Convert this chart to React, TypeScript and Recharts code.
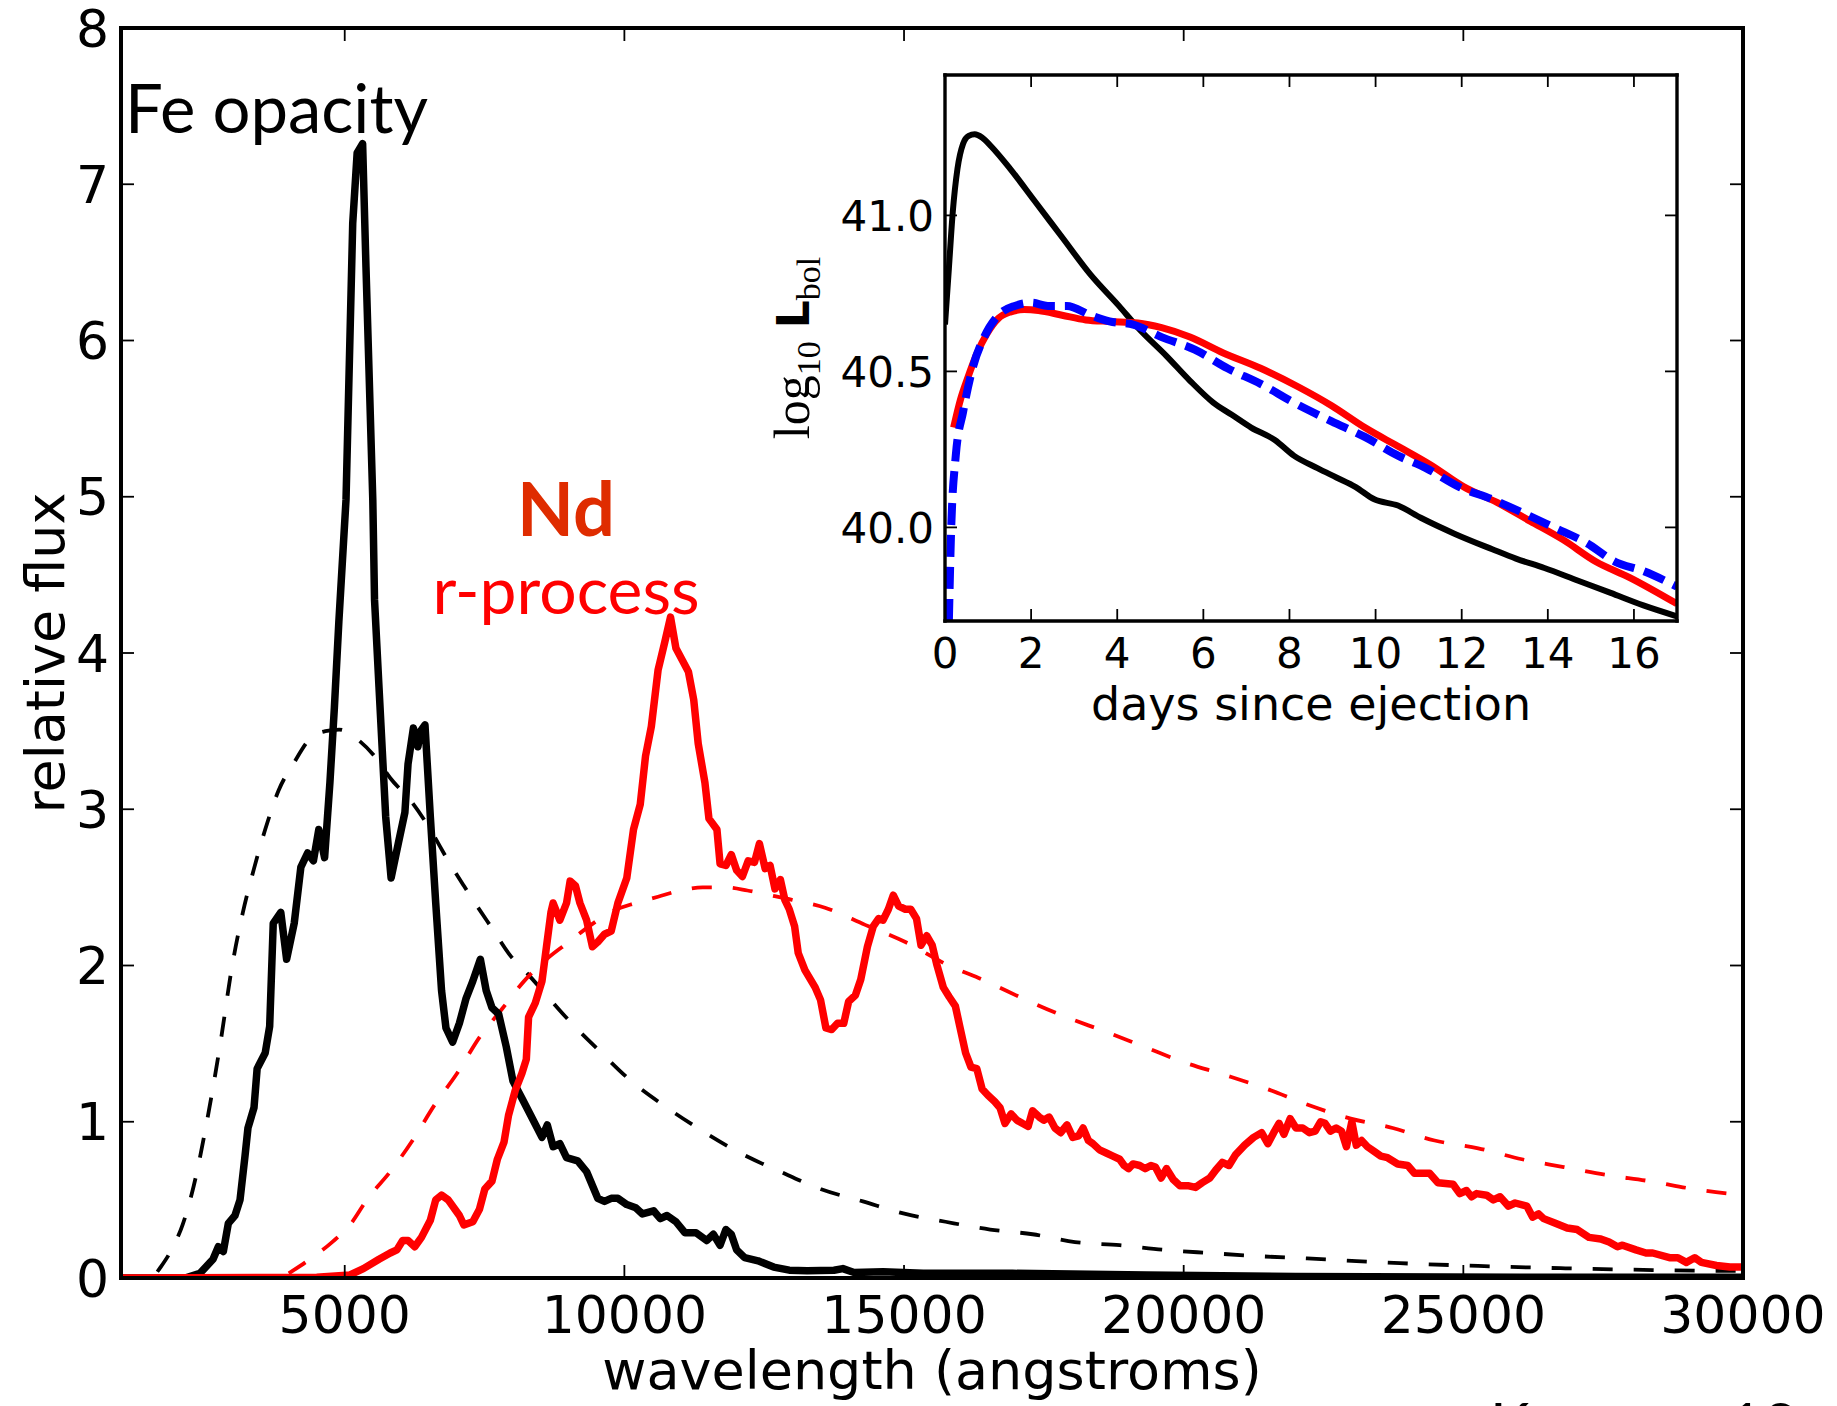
import React from "react";
import { Line, LineChart, XAxis, YAxis } from "recharts";

// main panel: spectra (wavelength in angstroms, relative flux)
const feSpectrum: [number, number][] = [
  [1000, 0], [2000, 0], [2144, 0.0], [2412, 0.03], [2645, 0.12], [2740, 0.2], [2830, 0.17], [2919, 0.35],
  [3038, 0.4], [3128, 0.5], [3217, 0.78], [3270, 0.96], [3378, 1.09], [3434, 1.34], [3578, 1.44], [3658, 1.61],
  [3722, 2.27], [3857, 2.34], [3961, 2.04], [4097, 2.27], [4216, 2.63], [4336, 2.72], [4440, 2.67], [4536, 2.87],
  [4640, 2.69], [4735, 3.17], [4815, 3.65], [4895, 4.2], [5023, 4.98], [5143, 6.75], [5222, 7.2], [5320, 7.26],
  [5380, 6.47], [5502, 4.98], [5533, 4.34], [5613, 3.78], [5733, 2.95], [5829, 2.56], [5957, 2.78], [6076, 2.98],
  [6132, 3.29], [6228, 3.52], [6308, 3.4], [6356, 3.5], [6435, 3.54], [6531, 2.95], [6627, 2.4], [6731, 1.84],
  [6810, 1.6], [6930, 1.51], [7050, 1.63], [7170, 1.79], [7290, 1.9], [7425, 2.04], [7529, 1.84], [7633, 1.73],
  [7752, 1.69], [7888, 1.48], [8008, 1.26], [8168, 1.15], [8327, 1.04], [8527, 0.9], [8622, 0.98], [8726, 0.84],
  [8846, 0.86], [8966, 0.77], [9165, 0.75], [9325, 0.68], [9524, 0.51], [9644, 0.49], [9764, 0.51], [9884, 0.51],
  [10043, 0.47], [10203, 0.45], [10323, 0.41], [10522, 0.43], [10642, 0.38], [10762, 0.4], [10922, 0.36],
  [11081, 0.29], [11281, 0.29], [11472, 0.24], [11591, 0.28], [11711, 0.21], [11815, 0.31], [11911, 0.28],
  [12007, 0.18], [12150, 0.13], [12390, 0.11], [12669, 0.07], [12948, 0.05], [13268, 0.047], [13747, 0.05],
  [13906, 0.06], [14106, 0.035], [14625, 0.04], [15343, 0.03], [16939, 0.03], [19334, 0.02], [22000, 0.01],
  [26000, 0.005], [30000, 0.005],
];

const ndSpectrum: [number, number][] = [
  [1000, 0], [4500, 0.005], [5094, 0.02], [5334, 0.06], [5613, 0.12], [5813, 0.16], [5933, 0.18], [6036, 0.24],
  [6132, 0.24], [6252, 0.2], [6372, 0.26], [6531, 0.37], [6627, 0.5], [6731, 0.53], [6850, 0.5], [6970, 0.44],
  [7050, 0.4], [7130, 0.34], [7290, 0.36], [7409, 0.44], [7505, 0.57], [7633, 0.62], [7729, 0.76], [7848, 0.87],
  [7928, 1.04], [8048, 1.2], [8168, 1.31], [8247, 1.4], [8287, 1.67], [8407, 1.76], [8527, 1.9], [8607, 2.12],
  [8687, 2.34], [8726, 2.4], [8846, 2.29], [8966, 2.4], [9030, 2.54], [9125, 2.51], [9205, 2.4], [9325, 2.29],
  [9429, 2.12], [9524, 2.15], [9644, 2.2], [9764, 2.22], [9884, 2.4], [10043, 2.56], [10163, 2.87], [10283, 3.03],
  [10378, 3.34], [10482, 3.53], [10602, 3.89], [10722, 4.07], [10825, 4.23], [10922, 4.03], [11041, 3.95],
  [11145, 3.88], [11240, 3.7], [11320, 3.42], [11440, 3.17], [11512, 2.94], [11655, 2.87], [11711, 2.65],
  [11815, 2.64], [11911, 2.71], [12007, 2.61], [12110, 2.57], [12214, 2.67], [12326, 2.66], [12414, 2.78],
  [12517, 2.62], [12605, 2.64], [12693, 2.49], [12789, 2.55], [12869, 2.42], [12948, 2.36], [13044, 2.25],
  [13108, 2.08], [13228, 1.97], [13411, 1.86], [13507, 1.78], [13603, 1.6], [13707, 1.59], [13811, 1.63],
  [13922, 1.63], [14010, 1.77], [14130, 1.81], [14226, 1.91], [14345, 2.12], [14449, 2.25], [14545, 2.3],
  [14625, 2.29], [14720, 2.36], [14808, 2.45], [14904, 2.38], [15024, 2.36], [15120, 2.36], [15223, 2.3],
  [15303, 2.13], [15407, 2.19], [15503, 2.13], [15583, 2.01], [15702, 1.86], [15806, 1.8], [15918, 1.74],
  [15997, 1.61], [16101, 1.44], [16197, 1.35], [16301, 1.34], [16396, 1.21], [16500, 1.17], [16620, 1.13],
  [16716, 1.09], [16804, 0.99], [16915, 1.05], [17019, 1.01], [17115, 0.99], [17219, 0.97], [17298, 1.07],
  [17418, 1.03], [17498, 1.01], [17594, 1.03], [17698, 0.96], [17801, 0.93], [17913, 0.98], [18017, 0.9],
  [18121, 0.91], [18201, 0.96], [18296, 0.88], [18376, 0.86], [18496, 0.82], [18616, 0.8], [18735, 0.78],
  [18855, 0.76], [18935, 0.72], [19015, 0.7], [19095, 0.73], [19214, 0.72], [19310, 0.7], [19414, 0.72],
  [19494, 0.71], [19597, 0.64], [19693, 0.7], [19813, 0.63], [19933, 0.59], [20092, 0.59], [20212, 0.58],
  [20332, 0.61], [20467, 0.64], [20571, 0.69], [20691, 0.74], [20810, 0.72], [20930, 0.79], [21090, 0.85],
  [21250, 0.9], [21393, 0.93], [21505, 0.86], [21609, 0.93], [21705, 0.99], [21792, 0.92], [21904, 1.02],
  [22008, 0.96], [22128, 0.96], [22248, 0.93], [22351, 0.94], [22447, 1.0], [22527, 0.99], [22623, 0.94],
  [22726, 0.96], [22822, 0.94], [22910, 0.84], [23006, 1.0], [23086, 0.85], [23181, 0.88], [23285, 0.84],
  [23405, 0.81], [23525, 0.78], [23645, 0.77], [23826, 0.73], [24006, 0.72], [24126, 0.67], [24396, 0.67],
  [24546, 0.61], [24816, 0.6], [24936, 0.54], [25056, 0.56], [25146, 0.52], [25236, 0.54], [25416, 0.53],
  [25536, 0.5], [25656, 0.52], [25806, 0.46], [25926, 0.48], [26136, 0.46], [26238, 0.39], [26346, 0.41],
  [26436, 0.38], [26646, 0.35], [26856, 0.32], [27036, 0.31], [27246, 0.26], [27456, 0.25], [27606, 0.23],
  [27756, 0.2], [27846, 0.21], [28086, 0.18], [28266, 0.16], [28386, 0.16], [28686, 0.13], [28836, 0.13],
  [28986, 0.1], [29136, 0.13], [29256, 0.1], [29526, 0.08], [29766, 0.07], [30000, 0.07],
];

// blackbody fits (dashed)
const feBlackbody: [number, number][] = [
  [1650, 0.04], [1702, 0.066], [1902, 0.18], [2101, 0.34], [2301, 0.59], [2540, 1.01], [2780, 1.51], [2979, 1.98],
  [3179, 2.34], [3378, 2.62], [3578, 2.87], [3817, 3.12], [4097, 3.3], [4376, 3.45], [4655, 3.5], [4900, 3.51],
  [5254, 3.44], [5533, 3.34], [5813, 3.2], [6212, 3.04], [6531, 2.87], [6850, 2.67], [7130, 2.51], [7330, 2.4],
  [7649, 2.23], [7968, 2.06], [8287, 1.94], [8607, 1.81], [9005, 1.65], [9564, 1.45], [10123, 1.26],
  [10762, 1.09], [11400, 0.94], [12070, 0.8], [12789, 0.68], [13507, 0.57], [14265, 0.49], [15024, 0.41],
  [15742, 0.36], [16540, 0.31], [17298, 0.28], [18057, 0.23], [18855, 0.21], [19653, 0.18], [20452, 0.16],
  [21330, 0.14], [22207, 0.125], [23006, 0.11], [23868, 0.095], [25266, 0.077], [26826, 0.062], [28386, 0.051],
  [30000, 0.045],
];

const ndBlackbody: [number, number][] = [
  [4000, 0.03], [4376, 0.12], [4775, 0.23], [5094, 0.34], [5414, 0.51], [5813, 0.68], [6212, 0.88], [6611, 1.11],
  [7010, 1.31], [7409, 1.54], [7808, 1.72], [8207, 1.9], [8607, 2.04], [9005, 2.15], [9404, 2.26], [9803, 2.35],
  [10203, 2.4], [10602, 2.44], [11001, 2.48], [11400, 2.5], [11799, 2.5], [12199, 2.48], [12598, 2.45],
  [12997, 2.42], [13587, 2.37], [14305, 2.26], [15024, 2.15], [15742, 2.01], [16461, 1.9], [17180, 1.78],
  [17898, 1.67], [18576, 1.58], [19294, 1.48], [20012, 1.38], [20731, 1.3], [21489, 1.21], [22207, 1.11],
  [22986, 1.02], [23736, 0.96], [24486, 0.88], [25266, 0.83], [26046, 0.76], [26796, 0.71], [27546, 0.66],
  [28326, 0.62], [29106, 0.57], [30000, 0.53],
];

const waveTicks = [5000, 10000, 15000, 20000, 25000, 30000];
const fluxTicks = [0, 1, 2, 3, 4, 5, 6, 7, 8];

// inset: log10 L_bol vs days since ejection
const feLightCurve: [number, number][] = [
  [0, 40.65], [0.09, 40.83], [0.18, 41.01], [0.29, 41.15], [0.42, 41.23], [0.55, 41.255], [0.69, 41.26],
  [0.86, 41.25], [1.08, 41.22], [1.51, 41.15], [2.06, 41.05], [2.72, 40.93], [3.38, 40.81], [4.04, 40.71],
  [4.48, 40.64], [5.14, 40.55], [5.69, 40.47], [6.23, 40.4], [6.67, 40.36], [7.11, 40.32], [7.66, 40.28],
  [8.1, 40.23], [8.65, 40.19], [9.09, 40.16], [9.53, 40.13], [9.97, 40.09], [10.52, 40.07], [11.06, 40.03],
  [11.83, 39.98], [12.71, 39.93], [13.26, 39.9], [13.92, 39.87], [14.69, 39.83], [15.46, 39.79], [16.22, 39.75],
  [17, 39.715],
];

const ndLightCurve: [number, number][] = [
  [0.2, 40.32], [0.36, 40.41], [0.53, 40.48], [0.75, 40.56], [0.97, 40.62], [1.24, 40.67], [1.51, 40.69],
  [1.84, 40.698], [2.17, 40.695], [2.72, 40.68], [3.27, 40.665], [3.82, 40.66], [4.48, 40.655], [5.03, 40.64],
  [5.69, 40.61], [6.45, 40.56], [7.33, 40.51], [8.21, 40.45], [8.98, 40.39], [9.75, 40.32], [10.52, 40.26],
  [11.28, 40.2], [12.05, 40.13], [12.82, 40.08], [13.59, 40.02], [14.36, 39.96], [15.12, 39.89], [15.89, 39.84],
  [17, 39.755],
];

const rprocLightCurve: [number, number][] = [
  [0.09, 39.7], [0.14, 39.98], [0.25, 40.23], [0.42, 40.37], [0.64, 40.51], [0.91, 40.61], [1.24, 40.68],
  [1.62, 40.71], [2.01, 40.72], [2.39, 40.71], [2.83, 40.71], [3.38, 40.68], [3.82, 40.66], [4.37, 40.65],
  [5.03, 40.61], [5.8, 40.57], [6.56, 40.51], [7.33, 40.46], [8.1, 40.4], [8.98, 40.34], [9.75, 40.29],
  [10.52, 40.23], [11.17, 40.19], [11.94, 40.13], [12.71, 40.09], [13.37, 40.05], [14.14, 40.0], [14.9, 39.95],
  [15.56, 39.89], [16.22, 39.86], [17, 39.81],
];

const dayTicks = [0, 2, 4, 6, 8, 10, 12, 14, 16];
const lumTicks = [40.0, 40.5, 41.0];

const SANS = "'DejaVu Sans', sans-serif";
const CAL = "Lato, 'Open Sans', sans-serif";

const pts = (arr: [number, number][]) => arr.map(([x, y]) => ({ x, y }));

// ticks point inward, labels sit outside (matplotlib classic look)
function tickFor(side: "bottom" | "top" | "left" | "right", len: number, size = 0, gap = 0, fmt = (v: number) => String(v)) {
  return (props: any) => {
    const { x, y, payload } = props;
    const v = payload.value;
    const ln = { stroke: "#000", strokeWidth: 1.8 };
    if (side === "bottom")
      return (
        <g>
          <line x1={x} x2={x} y1={y} y2={y - len} {...ln} />
          <text x={x} y={y + gap} textAnchor="middle" fontSize={size} fontFamily={SANS} fill="#000">{fmt(v)}</text>
        </g>
      );
    if (side === "left")
      return (
        <g>
          <line x1={x} x2={x + len} y1={y} y2={y} {...ln} />
          <text x={x - gap} y={y} dy="0.36em" textAnchor="end" fontSize={size} fontFamily={SANS} fill="#000">{fmt(v)}</text>
        </g>
      );
    if (side === "top") return <line x1={x} x2={x} y1={y} y2={y + len} {...ln} />;
    return <line x1={x} x2={x - len} y1={y} y2={y} {...ln} />;
  };
}

function YTitle(props: any) {
  const { viewBox, text, dx, size } = props;
  const cx = viewBox.x + dx;
  const cy = viewBox.y + viewBox.height / 2;
  return (
    <text x={cx} y={cy} transform={`rotate(-90 ${cx} ${cy})`} textAnchor="middle" fontSize={size} fontFamily={SANS} fill="#000">
      {text}
    </text>
  );
}

function LumTitle(props: any) {
  const { viewBox } = props;
  const cx = viewBox.x + 49;
  const cy = viewBox.y + viewBox.height / 2;
  return (
    <text x={cx} y={cy} transform={`rotate(-90 ${cx} ${cy})`} textAnchor="middle" fill="#000" fontFamily="'Liberation Serif', 'DejaVu Serif', serif" fontSize={50}>
      log
      <tspan fontSize={34} dy={11}>10</tspan>
      <tspan dy={-11} dx={13} fontFamily={SANS} fontWeight="bold" fontSize={44}>L</tspan>
      <tspan fontSize={34} dy={11}>bol</tspan>
    </text>
  );
}

const spine = { stroke: "#000", strokeWidth: 4, strokeLinecap: "square" as const };
const spineSmall = { stroke: "#000", strokeWidth: 3.4, strokeLinecap: "square" as const };

export default function App() {
  return (
    <div style={{ position: "absolute", left: 0, top: 0, width: 1837, height: 1406, overflow: "hidden", background: "#fff" }}>
      <LineChart width={1837} height={1406} margin={{ top: 27, right: 93, bottom: 0, left: 0 }}>
        <XAxis
          xAxisId="b"
          type="number"
          dataKey="x"
          domain={[1000, 30000]}
          allowDataOverflow
          ticks={waveTicks}
          interval={0}
          height={128}
          tickSize={0}
          tickMargin={0}
          tickLine={false}
          axisLine={spine}
          tick={tickFor("bottom", 13, 52, 55)}
          label={{ value: "wavelength (angstroms)", position: "insideBottom", offset: 17, fontSize: 54, fontFamily: SANS, fill: "#000" }}
        />
        <XAxis
          xAxisId="t"
          orientation="top"
          type="number"
          dataKey="x"
          domain={[1000, 30000]}
          allowDataOverflow
          ticks={waveTicks}
          interval={0}
          height={1}
          tickSize={0}
          tickMargin={0}
          tickLine={false}
          axisLine={spine}
          tick={tickFor("top", 13)}
        />
        <YAxis
          yAxisId="l"
          type="number"
          domain={[0, 8]}
          allowDataOverflow
          ticks={fluxTicks}
          interval={0}
          width={121}
          tickSize={0}
          tickMargin={0}
          tickLine={false}
          axisLine={spine}
          tick={tickFor("left", 13, 52, 12)}
          label={<YTitle text="relative flux" dx={64} size={54} />}
        />
        <YAxis
          yAxisId="r"
          orientation="right"
          type="number"
          domain={[0, 8]}
          allowDataOverflow
          ticks={fluxTicks}
          interval={0}
          width={1}
          tickSize={0}
          tickMargin={0}
          tickLine={false}
          axisLine={spine}
          tick={tickFor("right", 13)}
        />
        <Line xAxisId="b" yAxisId="l" data={pts(feBlackbody)} dataKey="y" type="monotone" stroke="#000" strokeWidth={3.8} strokeDasharray="20 21" dot={false} isAnimationActive={false} />
        <Line xAxisId="b" yAxisId="l" data={pts(ndBlackbody)} dataKey="y" type="monotone" stroke="#ff0000" strokeWidth={3.8} strokeDasharray="20 21" dot={false} isAnimationActive={false} />
        <Line xAxisId="b" yAxisId="l" data={pts(feSpectrum)} dataKey="y" type="linear" stroke="#000" strokeWidth={7.5} strokeLinejoin="round" dot={false} isAnimationActive={false} />
        <Line xAxisId="b" yAxisId="l" data={pts(ndSpectrum)} dataKey="y" type="linear" stroke="#ff0000" strokeWidth={7.5} strokeLinejoin="round" dot={false} isAnimationActive={false} />
      </LineChart>

      <svg width={1837} height={1406} style={{ position: "absolute", left: 0, top: 0, pointerEvents: "none" }}>
        <text x={125} y={133} fontFamily={CAL} fontSize={67} fill="#000">Fe opacity</text>
        <text x={566} y={536} textAnchor="middle" fontFamily={CAL} fontWeight="bold" fontSize={74} fill="#df2c00">Nd</text>
        <text x={566} y={614} textAnchor="middle" fontFamily={CAL} fontSize={66} fill="#ff0000">r-process</text>
        <text x={1490} y={1446} fontFamily={CAL} fontSize={60} fill="#000">Kasen</text>
        <text x={1728} y={1446} fontFamily={CAL} fontSize={60} fill="#000">13</text>
      </svg>

      <div style={{ position: "absolute", left: 760, top: 60 }}>
        <LineChart width={960} height={680} margin={{ top: 14, right: 42, bottom: 0, left: 0 }}>
          <XAxis
            xAxisId="b"
            type="number"
            dataKey="x"
            domain={[0, 17]}
            allowDataOverflow
            ticks={dayTicks}
            interval={0}
            height={119}
            tickSize={0}
            tickMargin={0}
            tickLine={false}
            axisLine={spineSmall}
            tick={tickFor("bottom", 12, 42, 47)}
            label={{ value: "days since ejection", position: "insideBottom", offset: 20, fontSize: 46, fontFamily: SANS, fill: "#000" }}
          />
          <XAxis
            xAxisId="t"
            orientation="top"
            type="number"
            dataKey="x"
            domain={[0, 17]}
            allowDataOverflow
            ticks={dayTicks}
            interval={0}
            height={1}
            tickSize={0}
            tickMargin={0}
            tickLine={false}
            axisLine={spineSmall}
            tick={tickFor("top", 12)}
          />
          <YAxis
            yAxisId="l"
            type="number"
            domain={[39.7, 41.45]}
            allowDataOverflow
            ticks={lumTicks}
            interval={0}
            width={185}
            tickSize={0}
            tickMargin={0}
            tickLine={false}
            axisLine={spineSmall}
            tick={tickFor("left", 12, 42, 11, (v) => v.toFixed(1))}
            label={<LumTitle />}
          />
          <YAxis
            yAxisId="r"
            orientation="right"
            type="number"
            domain={[39.7, 41.45]}
            allowDataOverflow
            ticks={lumTicks}
            interval={0}
            width={1}
            tickSize={0}
            tickMargin={0}
            tickLine={false}
            axisLine={spineSmall}
            tick={tickFor("right", 12)}
          />
          <Line xAxisId="b" yAxisId="l" data={pts(feLightCurve)} dataKey="y" type="monotone" stroke="#000" strokeWidth={6} dot={false} isAnimationActive={false} />
          <Line xAxisId="b" yAxisId="l" data={pts(ndLightCurve)} dataKey="y" type="monotone" stroke="#ff0000" strokeWidth={7} dot={false} isAnimationActive={false} />
          <Line xAxisId="b" yAxisId="l" data={pts(rprocLightCurve)} dataKey="y" type="monotone" stroke="#0000ff" strokeWidth={8} strokeDasharray="22 10" dot={false} isAnimationActive={false} />
        </LineChart>
      </div>
    </div>
  );
}
